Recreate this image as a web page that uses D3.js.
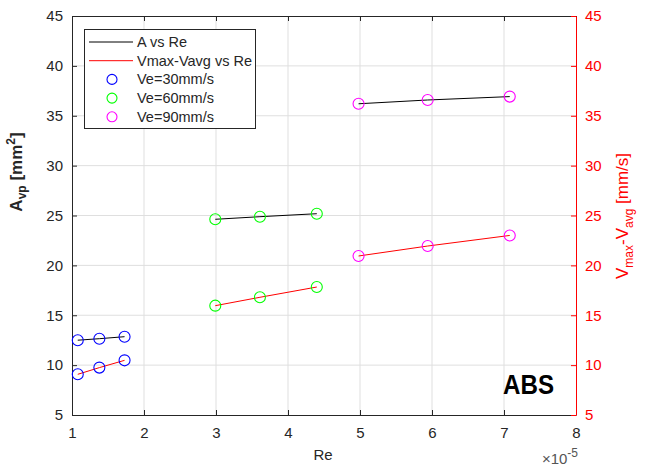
<!DOCTYPE html>
<html>
<head>
<script src="https://d3js.org/d3.v7.min.js"></script>
<style>
  body { margin: 0; background: #fff; }
  svg { font-family: "Liberation Sans", Arial, sans-serif; }
</style>
</head>
<body>
<svg id="chart" width="646" height="467"></svg>
<script>
// Re values (x 1e-5) per series
const re30 = [1.08, 1.38, 1.73];
const re60 = [2.99, 3.61, 4.40];
const re90 = [4.98, 5.94, 7.08];
// A_vp [mm^2]
const area30 = [12.5, 12.65, 12.85];
const area60 = [24.62, 24.88, 25.18];
const area90 = [36.2, 36.58, 36.92];
// Vmax - Vavg [mm/s]
const dv30 = [9.08, 9.75, 10.48];
const dv60 = [15.96, 16.8, 17.83];
const dv90 = [20.94, 21.94, 23.0];

const xTicks = [1, 2, 3, 4, 5, 6, 7, 8];
const yTicks = [5, 10, 15, 20, 25, 30, 35, 40, 45];

const groups = [
  { name: "Ve=30mm/s", color: "#0000ff", re: re30, a: area30, dv: dv30 },
  { name: "Ve=60mm/s", color: "#00ff00", re: re60, a: area60, dv: dv60 },
  { name: "Ve=90mm/s", color: "#ff00ff", re: re90, a: area90, dv: dv90 }
];

const margin = { left: 72, right: 70, top: 16, bottom: 52 };
const W = 646, H = 467;
const svg = d3.select("#chart");

const x = d3.scaleLinear().domain([1, 8]).range([margin.left, W - margin.right]);
const yL = d3.scaleLinear().domain([5, 45]).range([H - margin.bottom, margin.top]);
const yR = d3.scaleLinear().domain([5, 45]).range([H - margin.bottom, margin.top]);

const axisColor = "#262626";

// grid
svg.append("g").selectAll("line").data(xTicks.slice(1, -1)).join("line")
  .attr("x1", d => x(d)).attr("x2", d => x(d))
  .attr("y1", yL(5)).attr("y2", yL(45))
  .attr("stroke", "#dfdfdf").attr("stroke-width", 1);
svg.append("g").selectAll("line").data(yTicks.slice(1, -1)).join("line")
  .attr("x1", x(1)).attr("x2", x(8))
  .attr("y1", d => yL(d)).attr("y2", d => yL(d))
  .attr("stroke", "#dfdfdf").attr("stroke-width", 1);

// axes (ticks inward)
const fmt = d3.format("d");
const gx = svg.append("g").attr("transform", `translate(0,${yL(5)})`)
  .call(d3.axisBottom(x).tickValues(xTicks).tickFormat(fmt).tickSizeInner(-5).tickSizeOuter(0).tickPadding(12));
const gxTop = svg.append("g").attr("transform", `translate(0,${yL(45)})`)
  .call(d3.axisTop(x).tickValues(xTicks).tickSizeInner(-5).tickSizeOuter(0).tickFormat(""));
const gyL = svg.append("g").attr("transform", `translate(${x(1)},0)`)
  .call(d3.axisLeft(yL).tickValues(yTicks).tickFormat(fmt).tickSizeInner(-5).tickSizeOuter(0).tickPadding(9));
const gyR = svg.append("g").attr("transform", `translate(${x(8)},0)`)
  .call(d3.axisRight(yR).tickValues(yTicks).tickFormat(fmt).tickSizeInner(-5).tickSizeOuter(0).tickPadding(9));

[gx, gxTop, gyL].forEach(g => {
  g.selectAll("path, line").attr("stroke", axisColor);
  g.selectAll("text").attr("fill", axisColor).style("font-size", "15px");
});
gyR.selectAll("path, line").attr("stroke", "#ff0000");
gyR.selectAll("text").attr("fill", "#ff0000").style("font-size", "15px");
gx.selectAll("text").attr("dy", "0.71em");

// lines
const lineA = d3.line().x(d => x(d[0])).y(d => yL(d[1]));
const lineV = d3.line().x(d => x(d[0])).y(d => yR(d[1]));
groups.forEach(g => {
  svg.append("path").datum(d3.zip(g.re, g.a)).attr("d", lineA)
    .attr("fill", "none").attr("stroke", "#000").attr("stroke-width", 1);
  svg.append("path").datum(d3.zip(g.re, g.dv)).attr("d", lineV)
    .attr("fill", "none").attr("stroke", "#ff0000").attr("stroke-width", 1);
});

// markers
groups.forEach(g => {
  const pts = d3.zip(g.re, g.a).map(p => [x(p[0]), yL(p[1])])
    .concat(d3.zip(g.re, g.dv).map(p => [x(p[0]), yR(p[1])]));
  svg.append("g").selectAll("circle").data(pts).join("circle")
    .attr("cx", d => d[0]).attr("cy", d => d[1]).attr("r", 5.5)
    .attr("fill", "none").attr("stroke", g.color).attr("stroke-width", 1.1);
});

// legend
const leg = svg.append("g");
leg.append("rect").attr("x", 84.5).attr("y", 29.5).attr("width", 171).attr("height", 99)
  .attr("fill", "#fff").attr("stroke", axisColor).attr("stroke-width", 1);
const legItems = [
  { label: "A vs Re", type: "line", color: "#000" },
  { label: "Vmax-Vavg vs Re", type: "line", color: "#ff0000" }
].concat(groups.map(g => ({ label: g.name, type: "circle", color: g.color })));
legItems.forEach((it, i) => {
  const yy = 42 + i * 18.7;
  if (it.type === "line") {
    leg.append("line").attr("x1", 89).attr("x2", 133).attr("y1", yy).attr("y2", yy)
      .attr("stroke", it.color).attr("stroke-width", 1);
  } else {
    leg.append("circle").attr("cx", 112).attr("cy", yy).attr("r", 5)
      .attr("fill", "none").attr("stroke", it.color).attr("stroke-width", 1.1);
  }
  leg.append("text").attr("x", 137).attr("y", yy).attr("dy", "0.35em")
    .style("font-size", "14.5px").attr("fill", axisColor).text(it.label);
});

// axis labels
svg.append("text").attr("x", 323).attr("y", 460).attr("text-anchor", "middle")
  .style("font-size", "15px").attr("fill", axisColor).text("Re");

const mult = svg.append("text").attr("x", 578).attr("y", 464).attr("text-anchor", "end")
  .style("font-size", "15px").attr("fill", "#555");
mult.append("tspan").text("\u00d710");
mult.append("tspan").attr("dy", -7).style("font-size", "12px").text("-5");

const yl = svg.append("text").attr("transform", "translate(22,172) rotate(-90)")
  .attr("text-anchor", "middle").style("font-size", "17px").style("font-weight", "bold")
  .attr("fill", axisColor);
yl.append("tspan").text("A");
yl.append("tspan").attr("dy", 4).style("font-size", "12px").text("vp");
yl.append("tspan").attr("dy", -4).text(" [mm");
yl.append("tspan").attr("dy", -7).style("font-size", "12px").text("2");
yl.append("tspan").attr("dy", 7).text("]");

const yr = svg.append("text").attr("transform", "translate(628,216) rotate(-90)")
  .attr("text-anchor", "middle").style("font-size", "17px").attr("fill", "#ff0000");
yr.append("tspan").text("V");
yr.append("tspan").attr("dy", 5).style("font-size", "12px").text("max");
yr.append("tspan").attr("dy", -5).text("-V");
yr.append("tspan").attr("dy", 5).style("font-size", "12px").text("avg");
yr.append("tspan").attr("dy", -5).text(" [mm/s]");

// annotation
svg.append("text").attr("x", 503).attr("y", 394).attr("textLength", 51)
  .attr("lengthAdjust", "spacingAndGlyphs")
  .style("font-size", "28px").style("font-weight", "bold").attr("fill", "#000").text("ABS");
</script>
</body>
</html>
